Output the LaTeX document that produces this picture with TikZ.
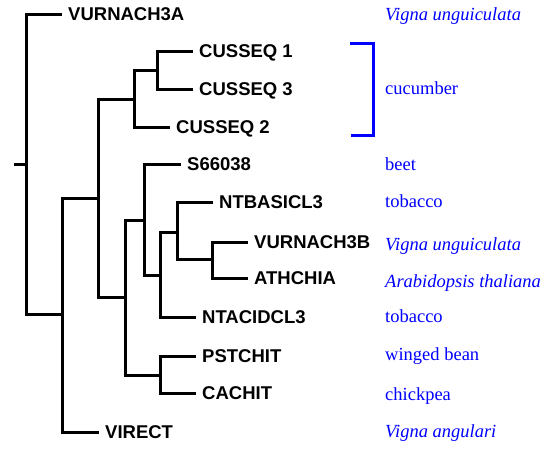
\documentclass[tikz,border=0pt]{standalone}
\usepackage{fontspec}
\setmainfont{Liberation Serif}
\newfontfamily\labfont{Liberation Sans}
\definecolor{pblue}{RGB}{0,0,255}
\begin{document}
\begin{tikzpicture}[x=1pt,y=-1pt,
  branch/.style={line width=3pt, line join=miter},
  leaf/.style={anchor=west, inner xsep=6pt, inner ysep=0pt, text height=13pt, text depth=0pt,
    font=\labfont\bfseries\fontsize{18.5}{20}\selectfont},
  src/.style={anchor=base west, inner sep=0pt, text=pblue, font=\fontsize{18.5}{20}\selectfont},
  srci/.style={src, font=\itshape\fontsize{18.5}{20}\selectfont},
  bracket/.style={draw=pblue, line width=3pt, line join=miter}]
\useasboundingbox (0,0) rectangle (544,455);
% leaves
\node[leaf] (va) at (62,14) {VURNACH3A};
\node[leaf] (c1) at (193,51) {CUSSEQ 1};
\node[leaf] (c3) at (193,89) {CUSSEQ 3};
\node[leaf] (c2) at (170,127) {CUSSEQ 2};
\node[leaf] (s6) at (181,164) {S66038};
\node[leaf] (nb) at (213,202) {NTBASICL3};
\node[leaf] (vb) at (248,242) {VURNACH3B};
\node[leaf] (at) at (248,278) {ATHCHIA};
\node[leaf] (na) at (196,317) {NTACIDCL3};
\node[leaf] (ps) at (196,356) {PSTCHIT};
\node[leaf] (ca) at (196,393) {CACHIT};
\node[leaf] (vi) at (99,432) {VIRECT};
% internal nodes
\coordinate (stub) at (14,164);
\coordinate (r) at (26,164);
\coordinate (n1) at (62,314);
\coordinate (n2) at (98,198);
\coordinate (n3) at (134,99);
\coordinate (n5) at (157,70);
\coordinate (n4) at (125,297);
\coordinate (n6) at (144,220);
\coordinate (n7) at (160,375);
\coordinate (n8) at (160,275);
\coordinate (n9) at (177,232);
\coordinate (n10) at (212,259);
% branches
\draw[branch] (stub) -- (r);
\draw[branch] (r) |- (va.west);
\draw[branch] (r) |- (n1);
\draw[branch] (n1) |- (n2);
\draw[branch] (n1) |- (vi.west);
\draw[branch] (n2) |- (n3);
\draw[branch] (n2) |- (n4);
\draw[branch] (n3) |- (n5);
\draw[branch] (n3) |- (c2.west);
\draw[branch] (n5) |- (c1.west);
\draw[branch] (n5) |- (c3.west);
\draw[branch] (n4) |- (n6);
\draw[branch] (n4) |- (n7);
\draw[branch] (n6) |- (s6.west);
\draw[branch] (n6) |- (n8);
\draw[branch] (n8) |- (n9);
\draw[branch] (n8) |- (na.west);
\draw[branch] (n9) |- (nb.west);
\draw[branch] (n9) |- (n10);
\draw[branch] (n10) |- (vb.west);
\draw[branch] (n10) |- (at.west);
\draw[branch] (n7) |- (ps.west);
\draw[branch] (n7) |- (ca.west);
% source labels
\node[srci] (l1) at (385,20) {Vigna unguiculata};
\node[src] (l2) at (385,94) {cucumber};
\node[src] (l3) at (385,170) {beet};
\node[src] (l4) at (385,207) {tobacco};
\node[srci] (l5) at (385,250) {Vigna unguiculata};
\node[srci] (l6) at (385,287) {Arabidopsis thaliana};
\node[src] (l7) at (385,322) {tobacco};
\node[src] (l8) at (385,360) {winged bean};
\node[src] (l9) at (385,400) {chickpea};
\node[srci] (l10) at (385,437) {Vigna angulari};
% bracket
\coordinate (b1) at (350,43.5);
\coordinate (b2) at (373.3,43.5);
\coordinate (b3) at (373.3,135.3);
\coordinate (b4) at (351,135.3);
\draw[bracket] (b1) -- (b2) -- (b3) -- (b4);
\end{tikzpicture}
\end{document}
